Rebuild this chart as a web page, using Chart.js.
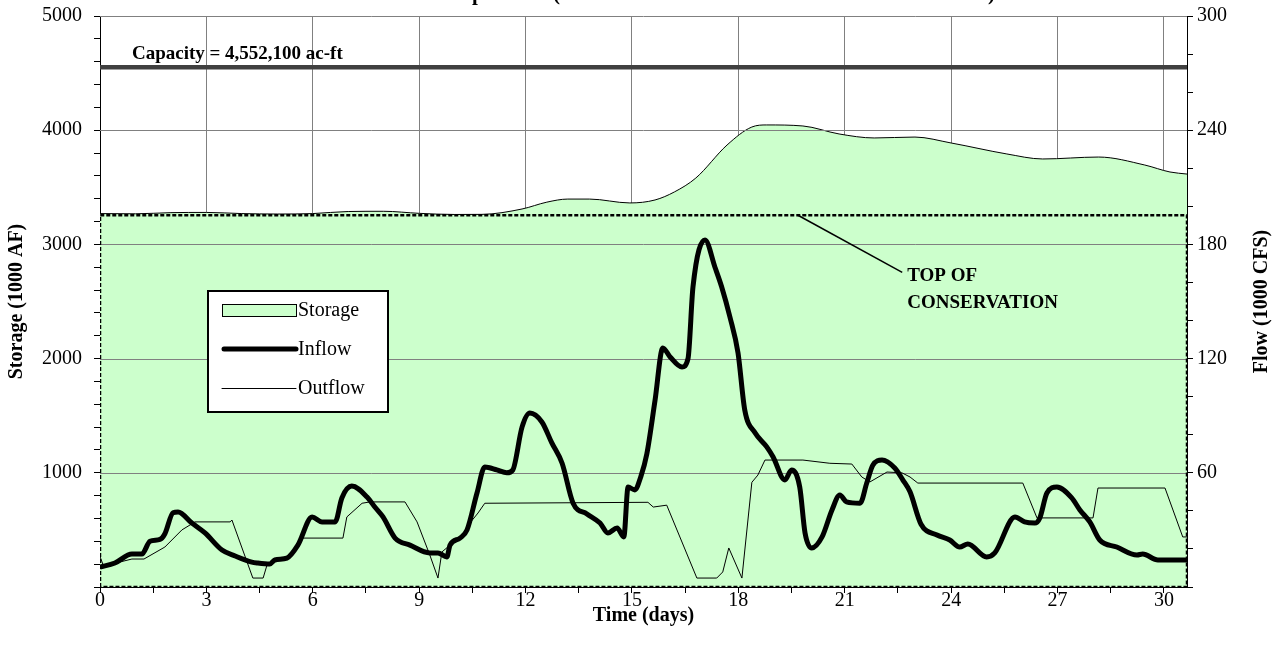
<!DOCTYPE html>
<html>
<head>
<meta charset="utf-8">
<script src="https://cdn.jsdelivr.net/npm/chart.js@4.4.1/dist/chart.umd.min.js"></script>
<style>
  html, body { margin: 0; padding: 0; background: #fff; }
  #wrap { width: 1274px; height: 660px; }
</style>
</head>
<body>
<div id="wrap"><canvas id="reservoir"></canvas></div>
<script>
// Reservoir storage / flow data
const storageDays = [0, 1, 2, 3, 4, 5, 6, 7, 8, 9, 10, 10.77, 11.9, 12.6, 13.19, 13.8, 14.94, 15.65, 16.2, 16.8, 17.68, 18.38, 18.8, 19.82, 20.84, 21.83, 22.98, 24, 25.57, 26.58, 28.16, 29.46, 30.17, 30.65];
const storageAF = [3270, 3268, 3278, 3280, 3270, 3266, 3270, 3288, 3290, 3272, 3262, 3263, 3310, 3370, 3397, 3397, 3363, 3389, 3460, 3581, 3870, 4028, 4046, 4037, 3967, 3932, 3940, 3888, 3792, 3748, 3765, 3695, 3634, 3616];

const inflowDays = [0, 0.42, 0.9, 1.18, 1.41, 1.69, 1.83, 2.06, 2.2, 2.59, 2.96, 3.44, 3.81, 4.28, 4.45, 4.79, 4.93, 5.27, 5.58, 5.98, 6.26, 6.63, 6.82, 7.1, 7.53, 7.75, 7.98, 8.32, 8.74, 9.3, 9.53, 9.78, 9.87, 10.15, 10.35, 10.63, 10.85, 11.19, 11.47, 11.64, 11.9, 12.12, 12.46, 12.74, 13.03, 13.34, 13.73, 14.1, 14.32, 14.58, 14.77, 14.89, 15.08, 15.25, 15.42, 15.65, 15.87, 16.07, 16.41, 16.58, 16.72, 17.06, 17.34, 17.53, 17.76, 17.99, 18.18, 18.47, 18.8, 18.98, 19.31, 19.5, 19.73, 19.88, 20.07, 20.36, 20.64, 20.86, 21.05, 21.43, 21.62, 21.79, 22.05, 22.41, 22.64, 22.84, 23.15, 23.6, 23.96, 24.24, 24.47, 25.0, 25.23, 25.8, 26.07, 26.36, 26.5, 26.7, 26.98, 27.4, 27.63, 27.91, 28.19, 28.67, 29.24, 29.4, 29.83, 30.65];
const inflowCFS = [10.5, 12.6, 17.3, 17.3, 24, 25, 28, 39, 39.4, 33.6, 28.4, 19.4, 16.3, 13.1, 12.6, 12.1, 14.2, 15.2, 22, 36.8, 34.2, 34.2, 46.8, 53, 47.3, 42, 36.8, 25.7, 22, 17.9, 17.9, 15.8, 22, 25.7, 30, 49.4, 63, 61.5, 60, 61.5, 84, 91.4, 86.7, 75.7, 65, 44, 38.4, 33.6, 28.4, 31, 26.3, 52.5, 51, 58, 70, 98, 125.6, 121, 115.6, 120, 157.6, 182.3, 168, 157.6, 142, 123, 93, 81, 73.6, 68.3, 56.2, 61.5, 52.5, 28.4, 20.5, 26.3, 40.5, 48.3, 44.7, 44, 54.6, 64, 66.7, 62.5, 56.2, 50, 33, 27.3, 24.7, 21, 22.6, 15.8, 17.9, 36.8, 34.2, 33.6, 36.3, 49.4, 52.5, 46.8, 40.5, 34.2, 24.7, 21, 16.8, 17.3, 14.2, 14.2];

const outflowDays = [0, 0.1, 0.9, 1.24, 1.83, 2.31, 2.68, 3.67, 3.72, 4.31, 4.6, 4.71, 4.79, 4.93, 5.27, 5.58, 5.7, 6.85, 6.96, 7.39, 7.61, 8.6, 8.94, 9.3, 9.53, 9.64, 9.87, 10.15, 10.43, 10.66, 10.85, 15.45, 15.6, 15.98, 16.83, 17.39, 17.56, 17.73, 18.1, 18.38, 18.55, 18.75, 19.82, 20.58, 21.2, 21.48, 21.71, 22.19, 22.61, 22.84, 23.06, 26.02, 26.42, 28.0, 28.14, 30.03, 30.53, 30.65];
const outflowCFS = [16, 11, 14.7, 14.7, 21, 30, 34.2, 34.2, 35.2, 4.7, 4.7, 11.6, 12.1, 14.2, 15.2, 22, 25.7, 25.7, 36.8, 44, 44.7, 44.7, 34.2, 16.8, 4.7, 18.4, 22, 25.7, 33.6, 38.9, 44, 44.5, 42, 43, 4.7, 4.7, 7.9, 20.5, 4.7, 55, 58.8, 66.7, 66.7, 65, 64.6, 57.8, 55.2, 60.4, 60, 57.8, 54.6, 54.6, 36.3, 36.3, 52, 52, 26.3, 26.3];

const lastDay = 30.65;
const capacityAF = 4552.1;
const topConservationAF = 3255;

const serif = "'Liberation Serif', 'Times New Roman', serif";

function pairs(xs, ys) {
    return xs.map((x, i) => ({ x: x, y: ys[i] }));
}

// draws the horizontal grid over the storage fill, then the legend and notes
const overlayPlugin = {
    id: 'overlay',
    afterDatasetDraw(chart, args) {
        if (args.index !== 4) return;
        const ctx = chart.ctx;
        const yScale = chart.scales.y;
        const area = chart.chartArea;
        ctx.save();
        ctx.strokeStyle = '#808080';
        ctx.lineWidth = 1;
        for (let v = 1000; v <= 5000; v += 1000) {
            const py = Math.round(yScale.getPixelForValue(v)) + 0.5;
            ctx.beginPath();
            ctx.moveTo(area.left, py);
            ctx.lineTo(area.right, py);
            ctx.stroke();
        }
        ctx.restore();
    },
    afterDraw(chart) {
        const ctx = chart.ctx;
        const xs = chart.scales.x;
        const ys = chart.scales.y;
        ctx.save();

        // title, mostly cut off at the top edge
        ctx.fillStyle = '#000';
        ctx.font = 'bold 21px ' + serif;
        ctx.textBaseline = 'alphabetic';
        ctx.textAlign = 'right';
        ctx.fillText('Shasta Dam Operation ', 553, 0);
        ctx.textAlign = 'left';
        ctx.fillText('(1997 FLOOD WITH REVISED RULE CURVE)', 553, 0);

        // capacity label
        ctx.font = 'bold 19px ' + serif;
        ctx.textBaseline = 'middle';
        ctx.fillText('Capacity = 4,552,100 ac-ft', xs.getPixelForValue(0.9), ys.getPixelForValue(4665));

        // top of conservation note
        const x0 = xs.getPixelForValue(19.68), y0 = ys.getPixelForValue(topConservationAF);
        const x1 = xs.getPixelForValue(22.62), y1 = ys.getPixelForValue(2755);
        ctx.strokeStyle = '#000';
        ctx.lineWidth = 1.5;
        ctx.beginPath();
        ctx.moveTo(x0, y0);
        ctx.lineTo(x1, y1);
        ctx.stroke();
        ctx.fillText('TOP OF', x1 + 5, y1 + 4);
        ctx.fillText('CONSERVATION', x1 + 5, y1 + 31);

        // right axis title, reading bottom to top
        ctx.font = 'bold 20px ' + serif;
        ctx.textAlign = 'center';
        ctx.translate(1262, (chart.chartArea.top + chart.chartArea.bottom) / 2);
        ctx.rotate(-Math.PI / 2);
        ctx.fillText('Flow (1000 CFS)', 0, 0);
        ctx.setTransform(1, 0, 0, 1, 0, 0);

        // legend box
        const bx = 208, by = 291, bw = 180, bh = 121;
        ctx.fillStyle = '#fff';
        ctx.fillRect(bx, by, bw, bh);
        ctx.strokeStyle = '#000';
        ctx.lineWidth = 2;
        ctx.strokeRect(bx, by, bw, bh);

        ctx.fillStyle = '#CCFFCC';
        ctx.fillRect(222, 304, 74, 12);
        ctx.lineWidth = 1;
        ctx.strokeRect(222.5, 304.5, 74, 12);

        ctx.lineCap = 'round';
        ctx.lineWidth = 5;
        ctx.beginPath();
        ctx.moveTo(224, 349);
        ctx.lineTo(296, 349);
        ctx.stroke();
        ctx.lineWidth = 1;
        ctx.beginPath();
        ctx.moveTo(222, 388.5);
        ctx.lineTo(296, 388.5);
        ctx.stroke();

        ctx.fillStyle = '#000';
        ctx.font = '20px ' + serif;
        ctx.textAlign = 'left';
        ctx.textBaseline = 'middle';
        ctx.fillText('Storage', 298, 311);
        ctx.fillText('Inflow', 298, 350);
        ctx.fillText('Outflow', 298, 389);
        ctx.restore();
    }
};

const ctx = document.getElementById('reservoir').getContext('2d');
new Chart(ctx, {
    type: 'line',
    data: {
        datasets: [
            {
                label: 'Inflow',
                data: pairs(inflowDays, inflowCFS),
                yAxisID: 'y2',
                borderColor: '#000',
                borderWidth: 5,
                cubicInterpolationMode: 'monotone',
                pointRadius: 0,
                fill: false
            },
            {
                label: 'Outflow',
                data: pairs(outflowDays, outflowCFS),
                yAxisID: 'y2',
                borderColor: '#000',
                borderWidth: 1,
                tension: 0,
                pointRadius: 0,
                fill: false
            },
            {
                label: 'Capacity',
                data: pairs([0, lastDay], [capacityAF, capacityAF]),
                yAxisID: 'y',
                borderColor: '#404040',
                borderWidth: 4.5,
                pointRadius: 0,
                fill: false
            },
            {
                label: 'Top of Conservation',
                data: pairs([0, 0, lastDay, lastDay, 0], [0, topConservationAF, topConservationAF, 0, 0]),
                yAxisID: 'y',
                borderColor: '#000',
                borderWidth: 2.5,
                borderDash: [4, 2],
                pointRadius: 0,
                fill: false
            },
            {
                label: 'Storage',
                data: pairs(storageDays, storageAF),
                yAxisID: 'y',
                borderColor: '#000',
                borderWidth: 1,
                backgroundColor: '#CCFFCC',
                cubicInterpolationMode: 'monotone',
                pointRadius: 0,
                fill: 'origin'
            }
        ]
    },
    options: {
        responsive: true,
        maintainAspectRatio: false,
        animation: false,
        layout: { padding: { top: 16, left: 0, right: 0, bottom: 0 } },
        plugins: {
            legend: { display: false },
            tooltip: { enabled: false }
        },
        scales: {
            x: {
                type: 'linear',
                min: 0,
                max: lastDay,
                afterFit: s => { s.height = 73; s.paddingLeft = 0; s.paddingRight = 0; },
                border: { color: '#000', width: 1 },
                grid: {
                    color: c => (c.tick && Math.abs(c.tick.value % 3) < 1e-6 ? '#808080' : 'rgba(0,0,0,0)'),
                    tickColor: '#000',
                    tickLength: 6
                },
                ticks: {
                    stepSize: 1.5,
                    autoSkip: false,
                    includeBounds: false,
                    maxRotation: 0,
                    padding: -4,
                    color: '#000',
                    font: { family: serif, size: 20 },
                    callback: v => (Math.abs(v % 3) < 1e-6 ? String(v) : '')
                },
                title: {
                    display: true,
                    text: 'Time (days)',
                    color: '#000',
                    font: { family: serif, size: 20, weight: 'bold' },
                    padding: { top: 0, bottom: 32 }
                }
            },
            y: {
                position: 'left',
                min: 0,
                max: 5000,
                afterFit: s => { s.width = 100; s.paddingTop = 0; s.paddingBottom = 0; },
                border: { color: '#000', width: 1 },
                grid: { drawOnChartArea: false, tickColor: '#000', tickLength: 6 },
                ticks: {
                    stepSize: 200,
                    autoSkip: false,
                    padding: 12,
                    color: '#000',
                    font: { family: serif, size: 20 },
                    callback: v => (v > 0 && v % 1000 === 0 ? String(v) : '')
                },
                title: {
                    display: true,
                    text: 'Storage (1000 AF)',
                    color: '#000',
                    font: { family: serif, size: 20, weight: 'bold' },
                    padding: { top: 5, bottom: 0 }
                }
            },
            y2: {
                position: 'right',
                min: 0,
                max: 300,
                afterFit: s => { s.width = 87; s.paddingTop = 0; s.paddingBottom = 0; },
                border: { color: '#000', width: 1 },
                grid: { drawOnChartArea: false, tickColor: '#000', tickLength: 6 },
                ticks: {
                    stepSize: 20,
                    autoSkip: false,
                    padding: 4,
                    color: '#000',
                    font: { family: serif, size: 20 },
                    callback: v => (v > 0 && v % 60 === 0 ? String(v) : '')
                }
            }
        }
    },
    plugins: [overlayPlugin]
});
</script>
</body>
</html>
